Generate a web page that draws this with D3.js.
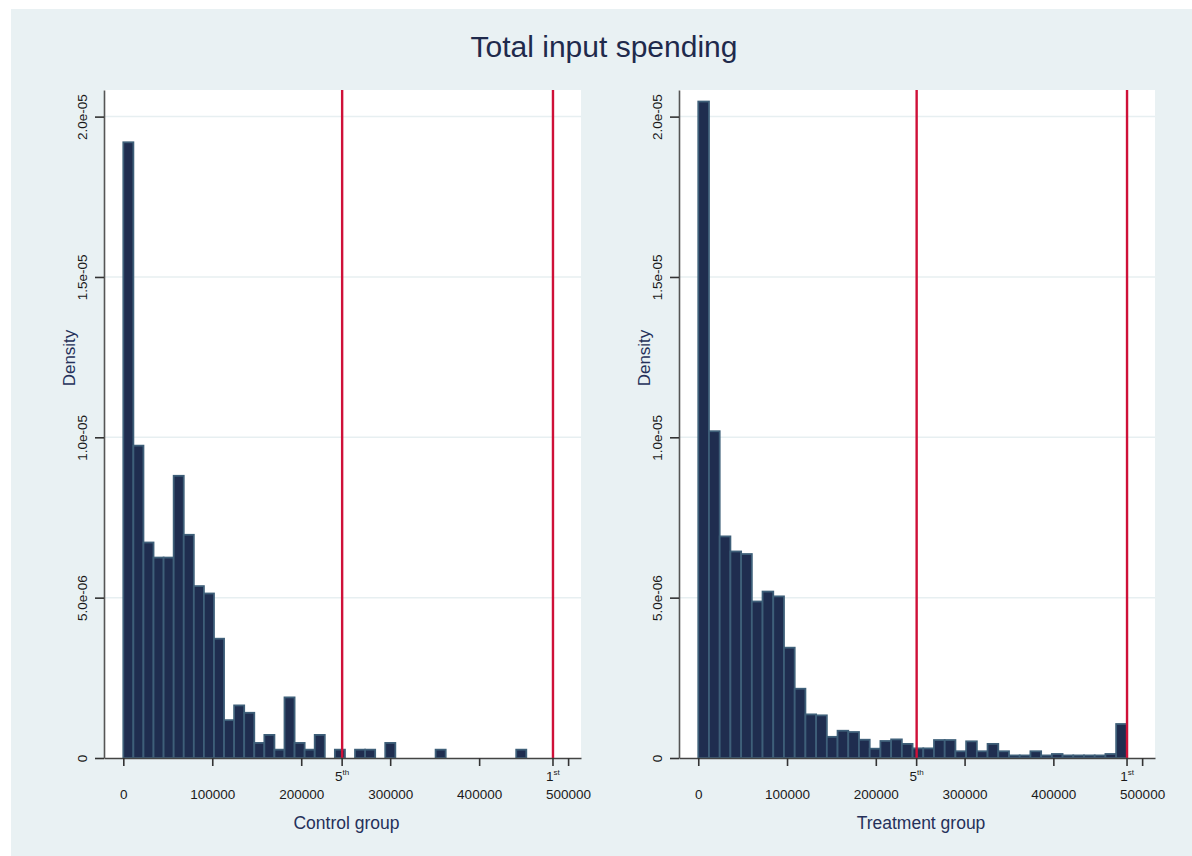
<!DOCTYPE html>
<html>
<head>
<meta charset="utf-8">
<script src="https://cdn.jsdelivr.net/npm/d3@7"></script>
<style>
  html, body { margin: 0; padding: 0; background: #ffffff; }
  svg { display: block; font-family: "Liberation Sans", Arial, sans-serif; }
</style>
</head>
<body>
<svg id="chart" width="1192" height="856"></svg>
<script>
// Histogram densities per bin (40 equal-width bins starting at 0)
const controlDensity = [
  1.92e-5, 9.74e-6, 6.72e-6, 6.25e-6, 6.25e-6, 8.80e-6, 6.96e-6, 5.36e-6, 5.13e-6, 3.72e-6,
  1.18e-6, 1.64e-6, 1.41e-6, 4.7e-7, 7.2e-7, 2.6e-7, 1.89e-6, 4.7e-7, 2.6e-7, 7.2e-7,
  0, 2.6e-7, 0, 2.6e-7, 2.6e-7, 0, 4.7e-7, 0, 0, 0,
  0, 2.6e-7, 0, 0, 0, 0, 0, 0, 0, 2.6e-7
];
const treatmentDensity = [
  2.047e-5, 1.019e-5, 6.91e-6, 6.44e-6, 6.36e-6, 4.88e-6, 5.19e-6, 5.04e-6, 3.44e-6, 2.16e-6,
  1.36e-6, 1.33e-6, 6.6e-7, 8.5e-7, 8.1e-7, 5.7e-7, 2.9e-7, 5.3e-7, 5.8e-7, 4.4e-7,
  3.0e-7, 3.0e-7, 5.6e-7, 5.6e-7, 2.1e-7, 5.2e-7, 2.1e-7, 4.4e-7, 2.1e-7, 8e-8,
  8e-8, 2.1e-7, 8e-8, 1.25e-7, 8e-8, 8e-8, 8e-8, 8e-8, 1.25e-7, 1.06e-6
];
const controlBinWidth = 11325;
const treatmentBinWidth = 12070;

// Axis ticks and labels
const xTicks = [0, 100000, 200000, 300000, 400000, 500000];
const yTicks = [0, 5e-6, 1e-5, 1.5e-5, 2e-5];
const yTickLabels = ["0", "5.0e-06", "1.0e-05", "1.5e-05", "2.0e-05"];

// Percentile cut-off lines (top 5% and top 1%)
const cutoffValues = [246000, 483000];
const cutoffBase = ["5", "1"];
const cutoffSup = ["th", "st"];

const panelTitles = ["Control group", "Treatment group"];
const chartTitle = "Total input spending";

const svg = d3.select("#chart");

// Graph region background
svg.append("rect")
  .attr("x", 11).attr("y", 9)
  .attr("width", 1192 - 11).attr("height", 856 - 9)
  .attr("fill", "#e9f1f3");

svg.append("text")
  .attr("x", 604).attr("y", 57)
  .attr("text-anchor", "middle")
  .attr("font-size", 30)
  .attr("fill", "#1f2a4c")
  .text(chartTitle);

const panels = [
  { title: panelTitles[0], data: controlDensity, binWidth: controlBinWidth, left: 104, right: 581 },
  { title: panelTitles[1], data: treatmentDensity, binWidth: treatmentBinWidth, left: 679, right: 1155 }
];

const plotTop = 90, plotBottom = 758;
const xDomain = [-21700, 514500];
const yDomain = [0, 2.083e-5];

panels.forEach(p => {
  const x = d3.scaleLinear().domain(xDomain).range([p.left, p.right]);
  const y = d3.scaleLinear().domain(yDomain).range([plotBottom, plotTop]);
  const g = svg.append("g");

  // plot region
  g.append("rect")
    .attr("x", p.left).attr("y", plotTop)
    .attr("width", p.right - p.left).attr("height", plotBottom - plotTop)
    .attr("fill", "#ffffff");

  // horizontal grid lines
  g.selectAll("line.grid")
    .data(yTicks.filter(t => t > 0))
    .join("line")
    .attr("class", "grid")
    .attr("x1", p.left).attr("x2", p.right)
    .attr("y1", d => y(d)).attr("y2", d => y(d))
    .attr("stroke", "#e7eff1")
    .attr("stroke-width", 1.5);

  // histogram bars
  const bins = p.data.map((d, i) => ({ x0: i * p.binWidth, x1: (i + 1) * p.binWidth, d }))
    .filter(b => b.d > 0);
  g.selectAll("rect.bar")
    .data(bins)
    .join("rect")
    .attr("class", "bar")
    .attr("x", b => x(b.x0))
    .attr("width", b => x(b.x1) - x(b.x0))
    .attr("y", b => y(b.d))
    .attr("height", b => y(0) - y(b.d))
    .attr("fill", "#1f2d4f")
    .attr("stroke", "#3e5f79")
    .attr("stroke-width", 1.8);

  // cut-off lines
  g.selectAll("line.cut")
    .data(cutoffValues)
    .join("line")
    .attr("class", "cut")
    .attr("x1", d => x(d)).attr("x2", d => x(d))
    .attr("y1", plotTop).attr("y2", plotBottom)
    .attr("stroke", "#cf1038")
    .attr("stroke-width", 2.4);

  // x axis
  const xAxis = d3.axisBottom(x)
    .tickValues(xTicks)
    .tickFormat(d3.format("d"))
    .tickSize(8)
    .tickSizeOuter(0)
    .tickPadding(3);
  const xg = g.append("g")
    .attr("transform", `translate(0,${plotBottom})`)
    .call(xAxis);
  xg.select(".domain").attr("stroke", "#444").attr("stroke-width", 1.6);
  xg.selectAll(".tick line").attr("stroke", "#333").attr("stroke-width", 1.6);
  xg.selectAll(".tick text")
    .attr("font-size", 13.5)
    .attr("font-family", "Liberation Sans, Arial, sans-serif")
    .attr("fill", "#1a1a1a")
    .attr("y", 41).attr("dy", 0);

  // ticks and labels at cut-off lines
  const cg = g.selectAll("g.cutTick")
    .data(cutoffValues)
    .join("g")
    .attr("class", "cutTick")
    .attr("transform", d => `translate(${x(d)},${plotBottom})`);
  cg.append("line")
    .attr("y1", 0).attr("y2", 8)
    .attr("stroke", "#333").attr("stroke-width", 1.6);
  const ct = cg.append("text")
    .attr("y", 23)
    .attr("text-anchor", "middle")
    .attr("font-size", 13.5)
    .attr("fill", "#1a1a1a");
  ct.append("tspan").text((d, i) => cutoffBase[i]);
  ct.append("tspan")
    .attr("font-size", 8)
    .attr("dy", -6)
    .text((d, i) => cutoffSup[i]);

  // y axis
  const yAxis = d3.axisLeft(y)
    .tickValues(yTicks)
    .tickFormat((d, i) => yTickLabels[i])
    .tickSize(9)
    .tickSizeOuter(0);
  const yg = g.append("g")
    .attr("transform", `translate(${p.left},0)`)
    .call(yAxis);
  yg.select(".domain").attr("stroke", "#555").attr("stroke-width", 1.6);
  yg.selectAll(".tick line").attr("stroke", "#333").attr("stroke-width", 1.6);
  yg.selectAll(".tick text")
    .attr("font-size", 13.5)
    .attr("font-family", "Liberation Sans, Arial, sans-serif")
    .attr("fill", "#1a1a1a")
    .attr("text-anchor", "middle")
    .attr("transform", "rotate(-90)")
    .attr("x", 0).attr("y", -17).attr("dy", 0);

  // axis titles
  g.append("text")
    .attr("transform", `translate(${p.left - 29},358) rotate(-90)`)
    .attr("text-anchor", "middle")
    .attr("font-size", 17)
    .attr("fill", "#25305a")
    .text("Density");

  g.append("text")
    .attr("x", (p.left + p.right) / 2 + 4)
    .attr("y", 829)
    .attr("text-anchor", "middle")
    .attr("font-size", 17.5)
    .attr("fill", "#25305a")
    .text(p.title);
});
</script>
</body>
</html>
